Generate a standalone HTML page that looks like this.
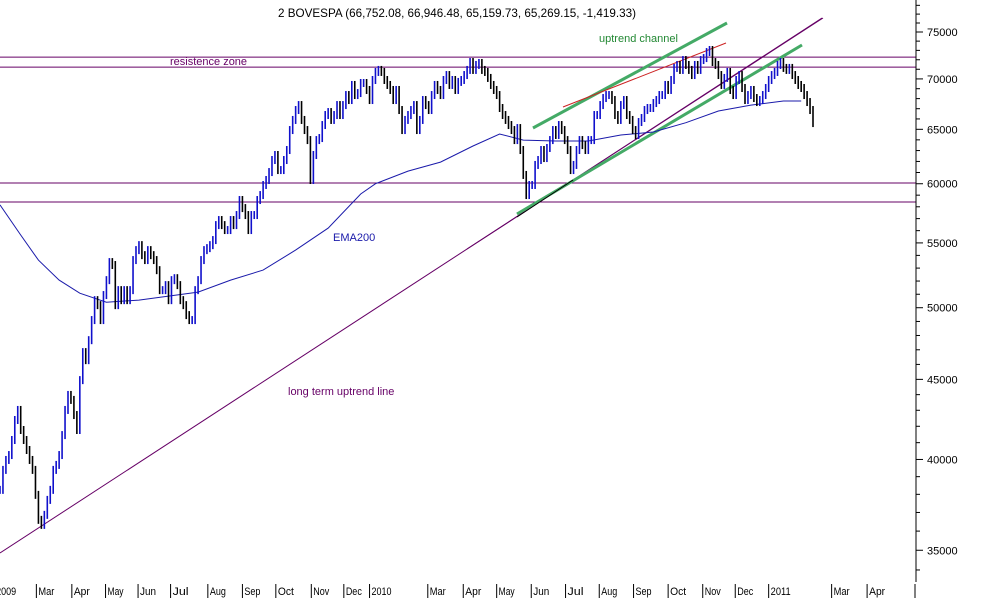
<!DOCTYPE html>
<html><head><meta charset="utf-8"><style>
html,body{margin:0;padding:0;background:#fff;}
svg{display:block;font-family:"Liberation Sans",sans-serif;}
</style></head><body>
<svg id="chart" width="992" height="611" viewBox="0 0 992 611" xmlns="http://www.w3.org/2000/svg">
<rect x="0" y="0" width="992" height="611" fill="#fff"/>
<g id="overlays"></g>
<g id="ema"></g>
<g id="bars"></g>
<g id="axis"></g>
<g id="xaxis"></g>
<text x="278" y="17" font-size="12" fill="#000" textLength="358" lengthAdjust="spacingAndGlyphs">2 BOVESPA (66,752.08, 66,946.48, 65,159.73, 65,269.15, -1,419.33)</text>
<text x="170" y="65" font-size="11" fill="#660066">resistence zone</text>
<text x="599" y="42" font-size="11" fill="#228833">uptrend channel</text>
<text x="333" y="241" font-size="11" fill="#1a1aaa">EMA200</text>
<text x="288" y="395" font-size="11" fill="#660066">long term uptrend line</text>
</svg>
<script>
const closes = [38250,39390,39970,40260,41160,42390,43020,41770,41160,40560,39970,39390,37970,36600,36330,36870,37690,38250,39390,39680,40260,41460,43020,43980,43660,42700,41770,44950,46840,46290,47670,49100,50560,50190,49100,50940,52070,53470,53240,50190,51310,50560,51310,50560,51310,53630,54420,54820,54020,53630,54420,54020,53630,52840,51310,51310,51690,50560,52070,52220,51690,50560,50190,49460,49100,49100,51310,52070,53630,54420,54580,54820,55230,56460,56880,56460,56050,56050,56880,56460,57300,58580,57890,57300,56050,57300,57300,58580,59010,59890,60330,61040,62130,62590,61220,61220,62130,63050,64930,65900,66870,67360,65900,64930,63980,60330,62590,63980,64170,65410,66380,66670,65900,66380,67360,66380,67360,68360,67860,69380,68360,68560,69580,69580,68870,67860,69890,70720,70930,70720,69890,69380,68870,67860,68870,66870,64930,65900,66380,66870,67360,64930,65900,67860,67360,66870,68360,69380,68870,68360,69890,70400,69380,69890,68870,69690,69890,70400,70930,71760,70930,71450,71660,70930,70720,70100,69380,68870,68360,67070,66380,65900,65410,64930,63980,65120,63050,60780,59010,59890,59890,61680,62130,63050,62310,63240,63980,64930,64460,65410,64930,63980,63050,61220,61680,63050,63980,63510,63050,63980,63980,66380,66380,67360,68060,68360,68360,67860,66380,65900,67360,67860,66380,65900,64930,64460,65700,66090,66870,67070,67070,67560,67860,68360,68360,69380,68870,69890,71140,71450,70930,71970,71450,70930,70400,71450,70930,71970,72180,72820,73040,71760,71450,70400,69380,70100,70720,68870,68360,69890,70400,69070,67860,68360,68870,68060,67660,67860,68360,69070,69890,70400,70720,71450,71760,71140,70930,71140,70400,69890,69380,69070,68360,67660,66870,65600];
const emaIdx = [0,7,13,20,27,36,47,57,67,78,89,100,111,122,127,138,149,160,169,177,188,199,210,221,232,243,254,265,271];
const emaVal = [58160,55640,53630,52070,51080,50410,50560,50860,51160,52070,52840,54420,56210,59100,60000,61130,61940,63420,64550,63980,63890,63890,64460,64740,65630,66770,67360,67760,67760];
const yTicks = [35000,40000,45000,50000,55000,60000,65000,70000,75000];
const monthLabels = ["2009","Mar","Apr","May","Jun","Jul","Aug","Sep","Oct","Nov","Dec","2010","Mar","Apr","May","Jun","Jul","Aug","Sep","Oct","Nov","Dec","2011","Mar","Apr"];
const monthIdx = [-2,12.3,24.3,35.7,46.7,57.7,70.3,82,93.3,105.3,116.3,125,144.7,156.7,168,179.7,191.3,202.7,214.3,226,237.7,248.7,260,281.3,293.3];
const levels = [72280,71230,60060,58410];

const NS="http://www.w3.org/2000/svg";
const X_STEP = 813/(closes.length-1);
function xScale(i){return i*X_STEP;}
function yScale(v){return 32 + 680*Math.log(75000/v);}
function mk(tag,attrs,parent){const e=document.createElementNS(NS,tag);for(const k in attrs)e.setAttribute(k,attrs[k]);parent.appendChild(e);return e;}

const ov=document.getElementById('overlays');
levels.forEach((lv,k)=>{
  const l=mk('line',{x1:0,x2:916,y1:yScale(lv),y2:yScale(lv),stroke:'#660066','stroke-width':1},ov);
  
  
});
const segs=[
 ['long-term-trendline',0,553,822,18,'#660066',1],
 ['channel-thin-line',467,249,823,18,'#660066',1],
 ['green-channel-upper',533,128,727,23,'#44aa66',3],
 ['green-channel-lower',517,214,802,45,'#44aa66',3],
 ['red-resistance-line',563,107,726,43,'#cc2222',1],
 ['black-support-line',517,217,573,180,'#000',1]
];
segs.forEach(s=>{
  const l=mk('line',{x1:s[1],y1:s[2],x2:s[3],y2:s[4],stroke:s[5],'stroke-width':s[6]},ov);
  
  
});

const emaG=document.getElementById('ema');
let d='';
emaIdx.forEach((ix,k)=>{d+=(k?'L':'M')+xScale(ix).toFixed(1)+' '+yScale(emaVal[k]).toFixed(1);});
const ep=mk('path',{d:d,fill:'none',stroke:'#1a1aaa','stroke-width':1},emaG);



const bg=document.getElementById('bars');
closes.forEach((c,i)=>{
  const p=i?closes[i-1]:c;
  const up=c>=p;
  let y1=yScale(Math.max(c,p)), y2=yScale(Math.min(c,p));
  y1-=4; y2+=4;
  const l=mk('line',{x1:xScale(i),x2:xScale(i),y1:y1,y2:y2,stroke:up?'#1010cc':'#000','stroke-width':1.6},bg);
  
  
});

const ax=document.getElementById('axis');
const al=mk('line',{x1:916,x2:916,y1:0,y2:582,stroke:'#000','stroke-width':1},ax);


const bt=mk('line',{x1:915,x2:915,y1:584,y2:598,stroke:'#000','stroke-width':1},ax);


for(let v=34000;v<=78000;v+=1000){
  const y=yScale(v); if(y<0||y>582)continue;
  const major=v%5000===0;
  const t=mk('line',{x1:916,x2:major?923:920,y1:y,y2:y,stroke:'#000','stroke-width':1},ax);
  
  
}
yTicks.forEach(v=>{
  const t=mk('text',{x:927,y:yScale(v)+4,'font-size':11,fill:'#000'},ax);
  t.textContent=v;
  
  
});

const xa=document.getElementById('xaxis');
monthLabels.forEach((m,k)=>{
  const x=xScale(monthIdx[k]);
  const t=mk('line',{x1:x,x2:x,y1:584,y2:598,stroke:'#000','stroke-width':1},xa);
  
  
  const tx=mk('text',{x:x+2,y:595,'font-size':11,fill:'#000',textLength:m.length>3?20:16,lengthAdjust:'spacingAndGlyphs'},xa);
  tx.textContent=m;
  
  
});
</script>
</body></html>
